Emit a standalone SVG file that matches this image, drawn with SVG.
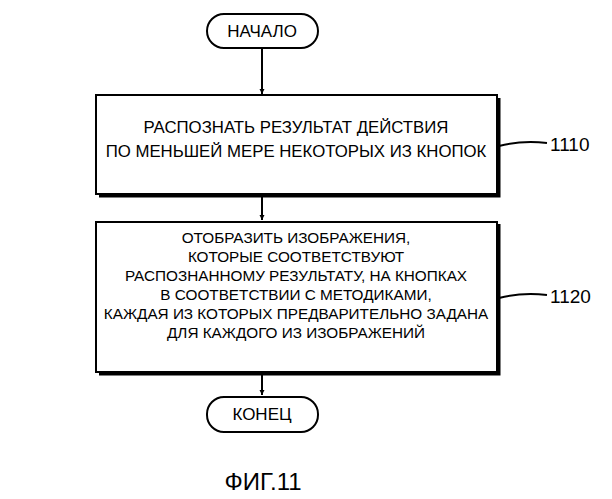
<svg xmlns="http://www.w3.org/2000/svg" width="612" height="499" viewBox="0 0 612 499">
<style>
text{font-family:"Liberation Sans",Arial,sans-serif;font-size:15.3px;fill:#000;text-anchor:middle}
.b{fill:#fff;stroke:#000;stroke-width:2}
.s{fill:none;stroke:#000;stroke-width:3}
.c{fill:none;stroke:#000;stroke-width:2}
.r{font-size:19px;text-anchor:start}
</style>
<defs><marker id="a" viewBox="0 0 10 10" refX="10" refY="5" markerWidth="5" markerHeight="6" orient="auto" markerUnits="userSpaceOnUse"><path d="M0,0L10,5L0,10z"/></marker></defs>
<g id="connectors">
<path class="c" d="M262,48V94" marker-end="url(#a)"/>
<path class="c" d="M262,196V220" marker-end="url(#a)"/>
<path class="c" d="M262,373V395" marker-end="url(#a)"/>
<path class="c" d="M499,146Q522,140 547,143"/>
<path class="c" d="M499,298Q522,292 547,295"/>
</g>
<g id="start"><rect class="b" x="207" y="14" width="111" height="34" rx="17"/><text x="262" y="37" style="font-size:17px">НАЧАЛО</text></g>
<g id="n1110"><path class="s" d="M99,196H499V98"/><rect class="b" x="96" y="95" width="401" height="99"/>
<text x="296" y="133" style="font-size:16.8px">РАСПОЗНАТЬ РЕЗУЛЬТАТ ДЕЙСТВИЯ</text><text x="296" y="157" style="font-size:16.8px">ПО МЕНЬШЕЙ МЕРЕ НЕКОТОРЫХ ИЗ КНОПОК</text>
<text x="550" y="151" class="r">1110</text></g>
<g id="n1120"><path class="s" d="M99,374H499V224"/><rect class="b" x="96" y="222" width="401" height="150"/>
<text x="296" y="243">ОТОБРАЗИТЬ ИЗОБРАЖЕНИЯ,</text><text x="296" y="262">КОТОРЫЕ СООТВЕТСТВУЮТ</text>
<text x="296" y="281">РАСПОЗНАННОМУ РЕЗУЛЬТАТУ, НА КНОПКАХ</text><text x="296" y="300">В СООТВЕТСТВИИ С МЕТОДИКАМИ,</text>
<text x="296" y="319">КАЖДАЯ ИЗ КОТОРЫХ ПРЕДВАРИТЕЛЬНО ЗАДАНА</text><text x="296" y="338">ДЛЯ КАЖДОГО ИЗ ИЗОБРАЖЕНИЙ</text>
<text x="550" y="303" class="r">1120</text></g>
<g id="end"><rect class="b" x="207" y="397" width="111" height="35" rx="17"/><text x="262" y="420" style="font-size:17px">КОНЕЦ</text></g>
<text x="263" y="490" style="font-size:24px">ФИГ.11</text>
</svg>
